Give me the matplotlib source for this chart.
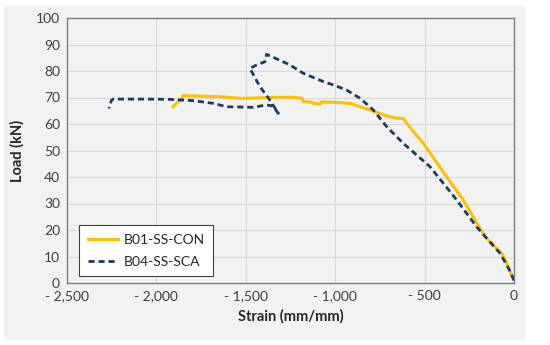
import matplotlib
matplotlib.use("Agg")
import matplotlib.pyplot as plt
from matplotlib.patches import FancyBboxPatch
from matplotlib.ticker import FuncFormatter

con_strain = [0, -41, -69, -120, -162, -220, -283, -376, -507, -580, -619, -656, -712, -805,
              -917, -1010, -1076, -1085, -1122, -1141, -1178, -1187, -1234, -1346, -1440,
              -1532, -1644, -1750, -1852, -1861, -1879, -1907]
con_load = [1, 7.4, 11.2, 14.5, 17.5, 24, 31.3, 40, 52.7, 58.5, 62.1, 62.2, 63.0, 65.3,
            67.8, 68.2, 68.4, 67.5, 67.8, 68.4, 68.4, 69.7, 70.1, 70.1, 69.8,
            69.7, 70.3, 70.5, 70.7, 69, 68.4, 66.5]

sca_strain = [0, -30, -78, -153, -209, -320, -470, -619, -712, -787, -861, -936, -992, -1066,
              -1178, -1253, -1384, -1393, -1439, -1477, -1421, -1365, -1318, -1350, -1384,
              -1458, -1607, -1682, -1794, -1924, -2074, -2242, -2251, -2265]
sca_load = [1, 5.5, 11.2, 16.9, 21.2, 31.3, 43.9, 52.7, 59, 65.3, 69.7, 72.8, 74.3, 76,
            79.1, 82.3, 86.3, 83.5, 82.3, 81, 74.1, 69, 64, 66.8, 67.2,
            66.3, 66.5, 67.8, 68.8, 69.3, 69.4, 69.4, 69, 65.9]

labels = ["B01-SS-CON", "B04-SS-SCA"]

plt.rcParams['font.family'] = ['Lato', 'DejaVu Sans']

fig = plt.figure(figsize=(5.5, 3.45), dpi=100, facecolor='white')
bg = FancyBboxPatch((4/550, 5/345), 522/550, 334/345, boxstyle="round,pad=0,rounding_size=0.008",
                    transform=fig.transFigure, facecolor='#f2f2f2', edgecolor='none', zorder=-10)
fig.patches.append(bg)

ax = fig.add_axes([67/550, 1-283/345, 447/550, 265/345])
ax.set_facecolor('#f2f2f2')
ax.plot(con_strain, con_load, color='#FFC000', lw=2.2, label=labels[0], zorder=3)
ax.plot(sca_strain, sca_load, color='#1F3864', lw=2, linestyle=(0, (2.2, 1.4)), label=labels[1], zorder=4)

ax.set_xlim(-2500, 0)
ax.set_ylim(0, 100)
ax.set_xticks(range(-2500, 1, 500))
ax.set_yticks(range(0, 101, 10))
ax.xaxis.set_major_formatter(FuncFormatter(lambda v, p: "0" if v == 0 else f"- {abs(int(v)):,}"))
ax.grid(True, color='#d9d9d9', lw=0.8)
ax.set_axisbelow(True)
for s in ax.spines.values():
    s.set_color('#7f7f7f')
    s.set_linewidth(1)
ax.tick_params(length=0, labelsize=10, colors='#404040', pad=5)
ax.set_xlabel("Strain (mm/mm)", fontsize=10.5, fontweight='bold', color='#262626', labelpad=5)
ax.set_ylabel("Load (kN)", fontsize=10.5, fontweight='bold', color='#262626', labelpad=8)

leg = ax.legend(loc='lower left', bbox_to_anchor=(8/447, 3/265), fontsize=10, frameon=True,
                fancybox=False, edgecolor='#404040', facecolor='white', framealpha=1,
                handlelength=2.2, borderpad=0.6, labelspacing=0.7, handletextpad=0.4,
                borderaxespad=0.3)
leg.get_frame().set_linewidth(0.8)
for t in leg.get_texts():
    t.set_color('#262626')

fig.savefig("out.png", dpi=100, facecolor='white')
